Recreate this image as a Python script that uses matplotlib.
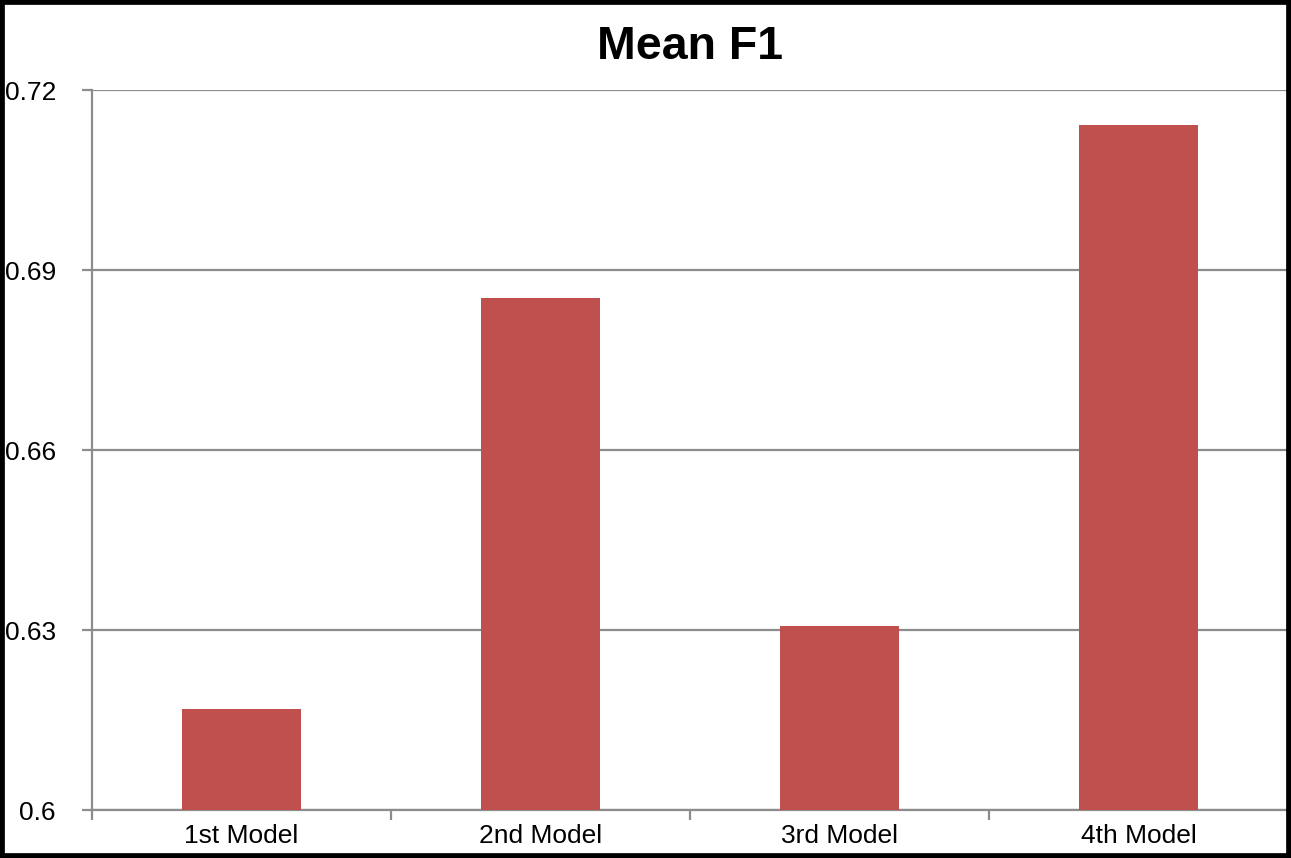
import matplotlib
matplotlib.use('Agg')
import matplotlib.pyplot as plt
from matplotlib.patches import Rectangle
from matplotlib.ticker import FormatStrFormatter, FixedLocator, NullFormatter
import numpy as np

models = ['1st Model', '2nd Model', '3rd Model', '4th Model']
mean_f1 = [0.6168, 0.6853, 0.6307, 0.7142]
y_ticks = [0.6, 0.63, 0.66, 0.69, 0.72]

BAR_COLOR = '#C0504D'
GRID_COLOR = '#8C8C8C'

plt.rcParams['font.family'] = ['Liberation Sans', 'DejaVu Sans']

fig = plt.figure(figsize=(12.91, 8.58), dpi=100)
ax = fig.add_axes([92 / 1291, 48 / 858, (1288 - 92) / 1291, (810 - 90) / 858])

x = np.arange(len(models))
ax.bar(x, mean_f1, width=0.4, color=BAR_COLOR, zorder=3)

ax.set_xlim(-0.5, len(models) - 0.5)
ax.set_ylim(0.6, 0.72)
ax.set_yticks(y_ticks)
ax.yaxis.set_major_formatter(FormatStrFormatter('%g'))
ax.yaxis.grid(True, color=GRID_COLOR, linewidth=1.6, zorder=0)

# category labels centred, tick marks at the category boundaries
ax.set_xticks(x)
ax.set_xticklabels(models)
ax.tick_params(axis='x', which='major', length=0, labelsize=19, pad=10)
ax.xaxis.set_minor_locator(FixedLocator(np.arange(-0.5, len(models))))
ax.xaxis.set_minor_formatter(NullFormatter())
ax.tick_params(axis='x', which='minor', length=7, width=1.6, color=GRID_COLOR)
ax.tick_params(axis='y', length=7, width=1.6, color=GRID_COLOR, labelsize=19, pad=19)

for side in ['top', 'right']:
    ax.spines[side].set_visible(False)
for side in ['left', 'bottom']:
    ax.spines[side].set_color(GRID_COLOR)
    ax.spines[side].set_linewidth(1.6)

ax.set_title('Mean F1', fontsize=33.5, fontweight='bold', pad=22)

# black frame around the whole picture
fig.patches.append(Rectangle((0, 0), 1, 1, transform=fig.transFigure, fill=False,
                             edgecolor='black', linewidth=7, zorder=10))

fig.savefig('out.png', dpi=100)
